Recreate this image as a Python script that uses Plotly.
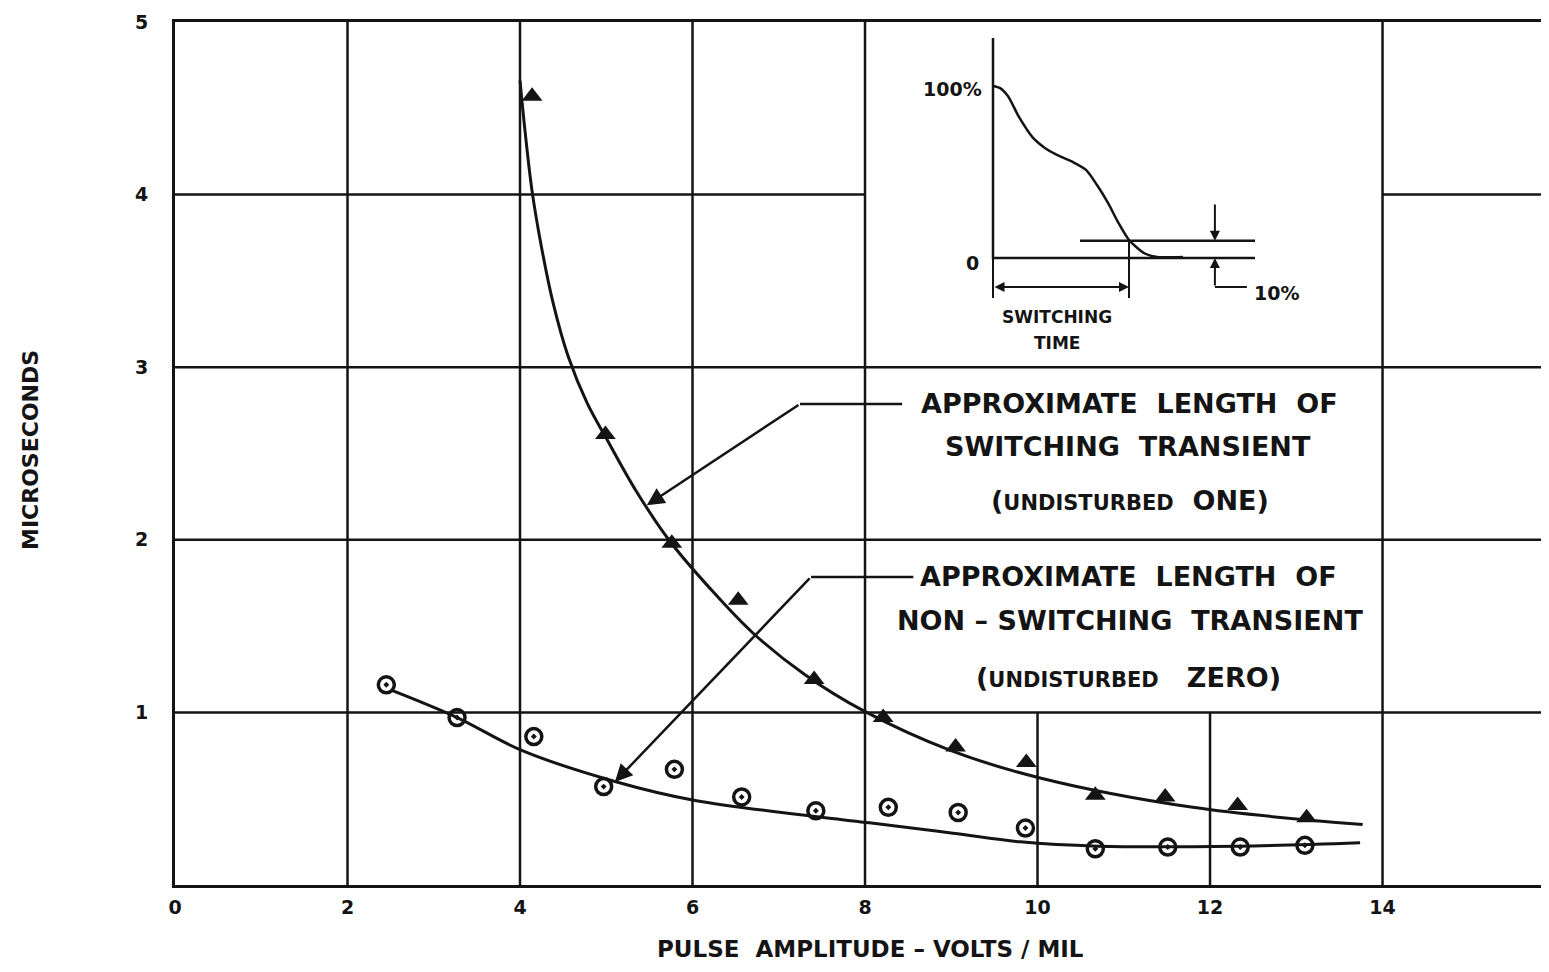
import plotly.graph_objects as go

# ---------------- data ----------------
# measured points: switching transient (triangles)
sw_x = [4.14, 4.99, 5.76, 6.53, 7.41, 8.21, 9.05, 9.87, 10.67, 11.48, 12.32, 13.12]
sw_y = [4.57, 2.61, 1.98, 1.65, 1.19, 0.97, 0.80, 0.71, 0.52, 0.51, 0.46, 0.39]
# measured points: non-switching transient (circles)
ns_x = [2.45, 3.27, 4.16, 4.97, 5.79, 6.57, 7.43, 8.27, 9.08, 9.86, 10.67, 11.51, 12.35, 13.10]
ns_y = [1.16, 0.97, 0.86, 0.57, 0.67, 0.51, 0.43, 0.45, 0.42, 0.33, 0.21, 0.22, 0.22, 0.23]

# hand-drawn fitted curves
sw_fit_x = [4.0, 4.06, 4.14, 4.24, 4.38, 4.56, 4.78, 5.01, 5.35, 5.74, 6.20, 6.70, 7.30, 7.98, 8.99, 10.03, 11.80, 13.77]
sw_fit_y = [4.66, 4.36, 4.02, 3.72, 3.38, 3.06, 2.79, 2.58, 2.28, 1.99, 1.72, 1.46, 1.22, 1.01, 0.78, 0.62, 0.45, 0.35]
ns_fit_x = [2.50, 3.27, 4.02, 5.10, 6.03, 8.05, 9.02, 9.80, 10.7, 12.3, 13.74]
ns_fit_y = [1.13, 0.97, 0.78, 0.60, 0.49, 0.36, 0.30, 0.25, 0.225, 0.225, 0.245]

x_ticks = [0, 2, 4, 6, 8, 10, 12, 14]
x_ticktext = ["0", "2", "4", "6", "8", "10", "12", "14"]
y_ticks = [1, 2, 3, 4, 5]
y_ticktext = ["1", "2", "3", "4", "5"]

# inset schematic: switching waveform (time fraction, amplitude %)
inset_t = [0.0, 0.027, 0.057, 0.099, 0.153, 0.198, 0.244, 0.305, 0.355, 0.397, 0.439, 0.477, 0.519, 0.576, 0.626, 0.725]
inset_a = [100, 98.8, 94.2, 82, 69.8, 64, 59.9, 55.8, 51.2, 42.4, 32, 20.9, 10.5, 2.9, 0.6, 0.6]
inset_level = 10  # 10 % threshold

X_MAX = 15.93
INK = "#141414"
FONT = "DejaVu Sans"

# page has an 8px body margin: compensate so the plot area sits at 175..1549 x 22..885
OFF = 8
PL, PT, PB = 175, 22, 885

fig = go.Figure()

# ---------------- grid (partial, as in the original drawing) ----------------
grid_v = [(2, 0, 5), (4, 0, 5), (6, 0, 5), (8, 0, 5), (14, 0, 5), (10, 0, 1), (12, 0, 1)]
grid_h = [(1, 0, X_MAX), (2, 0, X_MAX), (3, 0, X_MAX), (4, 0, 8), (4, 14, X_MAX)]
shapes = []
for x, y0, y1 in grid_v:
    shapes.append(dict(type="line", xref="x", yref="y", x0=x, x1=x, y0=y0, y1=y1,
                       line=dict(color=INK, width=2.5), layer="below"))
for y, x0, x1 in grid_h:
    shapes.append(dict(type="line", xref="x", yref="y", x0=x0, x1=x1, y0=y, y1=y,
                       line=dict(color=INK, width=2.5), layer="below"))

# ---------------- main curves ----------------
fig.add_trace(go.Scatter(x=sw_fit_x, y=sw_fit_y, mode="lines", line=dict(color=INK, width=3, shape="spline", smoothing=1.0),
                         hoverinfo="skip", showlegend=False))
fig.add_trace(go.Scatter(x=ns_fit_x, y=ns_fit_y, mode="lines", line=dict(color=INK, width=3, shape="spline", smoothing=1.0),
                         hoverinfo="skip", showlegend=False))
fig.add_trace(go.Scatter(x=sw_x, y=sw_y, mode="markers",
                         marker=dict(symbol="triangle-up", size=18, color=INK), showlegend=False))
fig.add_trace(go.Scatter(x=ns_x, y=ns_y, mode="markers",
                         marker=dict(symbol="circle-open-dot", size=16, color=INK, line=dict(width=3.5)),
                         showlegend=False))

# leader lines (horizontal parts)
fig.add_trace(go.Scatter(x=[8.43, 7.246], y=[2.787, 2.787], mode="lines", line=dict(color=INK, width=2.5),
                         hoverinfo="skip", showlegend=False))
fig.add_trace(go.Scatter(x=[8.56, 7.374], y=[1.785, 1.785], mode="lines", line=dict(color=INK, width=2.5),
                         hoverinfo="skip", showlegend=False))

# ---------------- inset schematic ----------------
fig.add_trace(go.Scatter(x=inset_t, y=inset_a, xaxis="x2", yaxis="y2", mode="lines",
                         line=dict(color=INK, width=2.5, shape="spline", smoothing=0.7),
                         hoverinfo="skip", showlegend=False))
fig.add_trace(go.Scatter(x=[0, 0, 1.0], y=[127.9, 0, 0], xaxis="x2", yaxis="y2", mode="lines",
                         line=dict(color=INK, width=2.5), hoverinfo="skip", showlegend=False))
fig.add_trace(go.Scatter(x=[0.332, 1.0], y=[inset_level, inset_level], xaxis="x2", yaxis="y2", mode="lines",
                         line=dict(color=INK, width=2.5), hoverinfo="skip", showlegend=False))
fig.add_trace(go.Scatter(x=[0, 0], y=[0, -23.3], xaxis="x2", yaxis="y2", mode="lines",
                         line=dict(color=INK, width=2), hoverinfo="skip", showlegend=False))
fig.add_trace(go.Scatter(x=[0.519, 0.519], y=[inset_level, -23.3], xaxis="x2", yaxis="y2", mode="lines",
                         line=dict(color=INK, width=2), hoverinfo="skip", showlegend=False))
fig.add_trace(go.Scatter(x=[0.847, 0.969], y=[-16.9, -16.9], xaxis="x2", yaxis="y2", mode="lines",
                         line=dict(color=INK, width=2), hoverinfo="skip", showlegend=False))

annotations = []
def txt(x, y, s, size, xref="x", yref="y", xanchor="center", yanchor="middle", angle=0):
    annotations.append(dict(x=x, y=y, xref=xref, yref=yref, text=s, showarrow=False,
                            xanchor=xanchor, yanchor=yanchor, textangle=angle,
                            font=dict(family=FONT, size=size, color=INK, weight="bold")))

def arrow(x, y, ax, ay, xref="x", yref="y", side="end", size=1.4, width=2.5):
    annotations.append(dict(x=x, y=y, ax=ax, ay=ay, xref=xref, yref=yref, axref=xref, ayref=yref,
                            text="", showarrow=True, arrowhead=2, arrowsize=size, arrowwidth=width,
                            arrowcolor=INK, arrowside=side, standoff=0, startstandoff=0))

NB = "\u00a0"
txt(11.07, 2.787, f"APPROXIMATE{NB}{NB}LENGTH{NB}{NB}OF", 27)
txt(11.05, 2.538, f"SWITCHING{NB}{NB}TRANSIENT", 27)
txt(11.07, 2.23, f"(<span style='font-size:21px'>UNDISTURBED</span>{NB}{NB}ONE)", 27)
txt(11.05, 1.785, f"APPROXIMATE{NB}{NB}LENGTH{NB}{NB}OF", 27)
txt(11.07, 1.53, f"NON{NB}–{NB}SWITCHING{NB}{NB}TRANSIENT", 27)
txt(11.05, 1.20, f"(<span style='font-size:21px'>UNDISTURBED</span>{NB}{NB}{NB}ZERO)", 27)

arrow(5.47, 2.20, 7.246, 2.787)
arrow(5.10, 0.597, 7.374, 1.785)

txt(-0.035, 98, "100%", 19, xref="x2", yref="y2", xanchor="right")
txt(-0.045, -3, "0", 19, xref="x2", yref="y2", xanchor="right")
txt(0.244, -34.3, "SWITCHING", 17, xref="x2", yref="y2")
txt(0.244, -49.4, "TIME", 17, xref="x2", yref="y2")
txt(0.99, -20.3, "10%", 19, xref="x2", yref="y2", xanchor="left")
arrow(0.847, inset_level, 0.847, 32, xref="x2", yref="y2", size=1.0, width=2)
arrow(0.847, 0, 0.847, -16.9, xref="x2", yref="y2", size=1.0, width=2)
arrow(0.519, -16.9, 0.0, -16.9, xref="x2", yref="y2", side="end+start", size=1.0, width=2)

W_PLOT = 1549 - PL
H_PLOT = PB - PT
txt((870 - PL) / W_PLOT, (PB - 949) / H_PLOT, f"PULSE{NB}{NB}AMPLITUDE{NB}–{NB}VOLTS{NB}/{NB}MIL", 23,
    xref="paper", yref="paper")
txt((30 - PL) / W_PLOT, (PB - 450) / H_PLOT, "MICROSECONDS", 22, xref="paper", yref="paper", angle=-90)

fig.update_layout(
    width=1549 - OFF, height=972 - 2 * OFF,
    margin=dict(l=PL - OFF, r=0, t=PT - OFF, b=(972 - OFF) - PB, pad=0),
    paper_bgcolor="white", plot_bgcolor="white",
    showlegend=False,
    font=dict(family=FONT, color=INK, weight="bold"),
    shapes=shapes,
    annotations=annotations,
    xaxis=dict(range=[0, X_MAX], tickvals=x_ticks, ticktext=x_ticktext, showgrid=False, zeroline=False,
               showline=True, linecolor=INK, linewidth=3, mirror=True,
               ticks="outside", ticklen=3, tickcolor="rgba(0,0,0,0)",
               tickfont=dict(family=FONT, size=19, color=INK, weight="bold")),
    yaxis=dict(range=[0, 5], tickvals=y_ticks, ticktext=y_ticktext, showgrid=False, zeroline=False,
               showline=True, linecolor=INK, linewidth=3,
               ticks="outside", ticklen=20, tickcolor="rgba(0,0,0,0)",
               tickfont=dict(family=FONT, size=19, color=INK, weight="bold")),
    xaxis2=dict(domain=[(940 - PL) / W_PLOT, (1330 - PL) / W_PLOT],
                range=[(940 - 993) / 262, (1330 - 993) / 262], anchor="y2",
                visible=False, showgrid=False, zeroline=False),
    yaxis2=dict(domain=[(PB - 360) / H_PLOT, (PB - 30) / H_PLOT],
                range=[(258 - 360) / 1.72, (258 - 30) / 1.72], anchor="x2",
                visible=False, showgrid=False, zeroline=False),
)

fig.write_html("out.html")
